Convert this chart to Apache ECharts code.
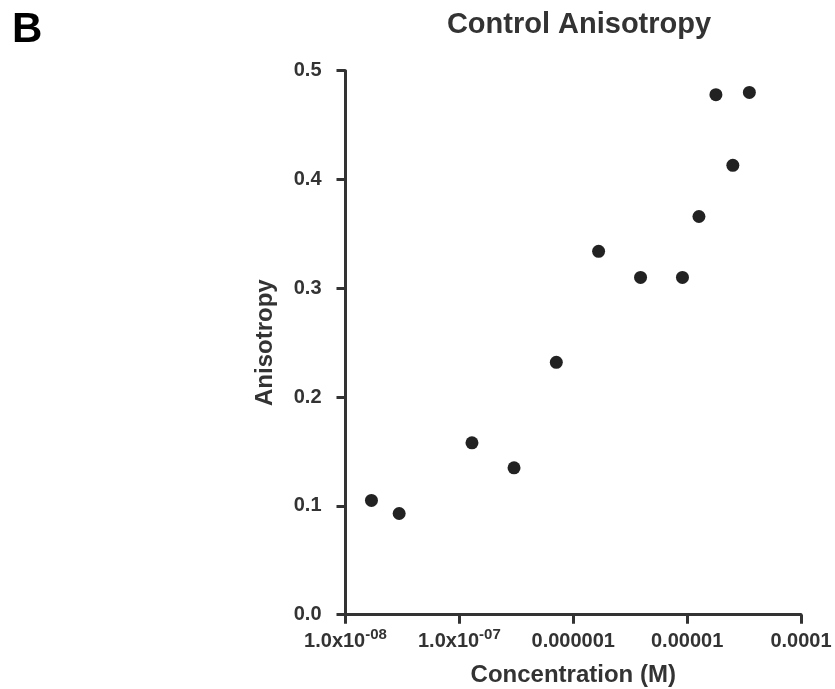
<!DOCTYPE html>
<html style="height: 100%">
    <head>
        <title>Control Anisotropy</title>
        <script type="text/javascript" src="https://fastly.jsdelivr.net/npm/echarts@6/dist/echarts.min.js"></script>
    </head>
    <body style="height: 100%; margin: 0; background: #fff">
        <div id="target" style="height: 100%"></div>

<script>
// measured points: concentration (M) vs anisotropy
let concentration = [1.69e-8, 2.96e-8, 1.29e-7, 3.02e-7, 7.1e-7, 1.67e-6, 3.9e-6, 9.1e-6, 1.27e-5, 1.79e-5, 2.52e-5, 3.52e-5];
let anisotropy    = [0.105,   0.093,   0.158,   0.135,   0.232,  0.334,   0.310,  0.310,  0.366,   0.478,   0.413,   0.480];

// x tick labels, one per decade from 1e-8, [base, superscript]
let xTickLabels = [
    ["1.0x10", "-08"],
    ["1.0x10", "-07"],
    ["0.000001", ""],
    ["0.00001", ""],
    ["0.0001", ""],
];
let yTicks = [0, 0.1, 0.2, 0.3, 0.4, 0.5];

let FONT = "'Liberation Sans', Arial, sans-serif";
let INK = "#333";

let chart = echarts.init(document.getElementById('target'));
window.addEventListener("resize", chart.resize);

let data = concentration.map((c, i) => [c, anisotropy[i]]);

let XLabel = (v) => {
    let idx = Math.round(Math.log10(v)) + 8;
    let lbl = xTickLabels[idx];
    if (!lbl) return "";
    if (lbl[1] == "") return "{m|" + lbl[0] + "}";
    return "{m|" + lbl[0] + "}{s|" + lbl[1] + "}";
};

let option = {
    animation: false,
    backgroundColor: "#fff",
    title: [
        {
            text: "B",
            left: 7,
            top: -11,
            textStyle: { fontFamily: FONT, fontWeight: "bold", fontSize: 42, color: "#000" },
        },
        {
            text: "Control Anisotropy",
            left: 574,
            top: -5,
            textAlign: "center",
            textStyle: { fontFamily: FONT, fontWeight: "bold", fontSize: 29, color: INK },
        },
    ],
    grid: {
        left: 345.5,
        right: 34,
        top: 70.7,
        bottom: 74.3,
        outerBoundsMode: "none",
        containLabel: false,
    },
    xAxis: {
        type: "log",
        logBase: 10,
        min: 1e-8,
        max: 1e-4,
        name: "Concentration (M)",
        nameLocation: "middle",
        nameGap: 40,
        nameMoveOverlap: false,
        nameTextStyle: { fontFamily: FONT, fontWeight: "bold", fontSize: 24, color: INK },
        splitLine: { show: false },
        axisLine: { lineStyle: { color: INK, width: 3 } },
        axisTick: { length: 9, lineStyle: { color: INK, width: 3 } },
        axisLabel: {
            margin: 14,
            formatter: XLabel,
            rich: {
                m: { fontFamily: FONT, fontWeight: "bold", fontSize: 20, color: INK, lineHeight: 26 },
                s: { fontFamily: FONT, fontWeight: "bold", fontSize: 15, color: INK, lineHeight: 13, padding: [0, 0, 13, 0] },
            },
        },
    },
    yAxis: {
        type: "value",
        min: 0,
        max: 0.5,
        interval: 0.1,
        name: "Anisotropy",
        nameLocation: "middle",
        nameGap: 59,
        nameMoveOverlap: false,
        nameTextStyle: { fontFamily: FONT, fontWeight: "bold", fontSize: 24, color: INK },
        splitLine: { show: false },
        axisLine: { show: true, lineStyle: { color: INK, width: 3 } },
        axisTick: { show: true, length: 9, lineStyle: { color: INK, width: 3 } },
        axisLabel: {
            margin: 24,
            fontFamily: FONT,
            fontWeight: "bold",
            fontSize: 20,
            color: INK,
            formatter: v => yTicks.includes(Math.round(v * 10) / 10) ? v.toFixed(1) : "",
        },
    },
    series: [
        {
            type: "scatter",
            data: data,
            symbol: "circle",
            symbolSize: 13,
            itemStyle: { color: "#222", opacity: 1 },
        },
    ],
};

chart.setOption(option, true);
</script>
    </body>
</html>
